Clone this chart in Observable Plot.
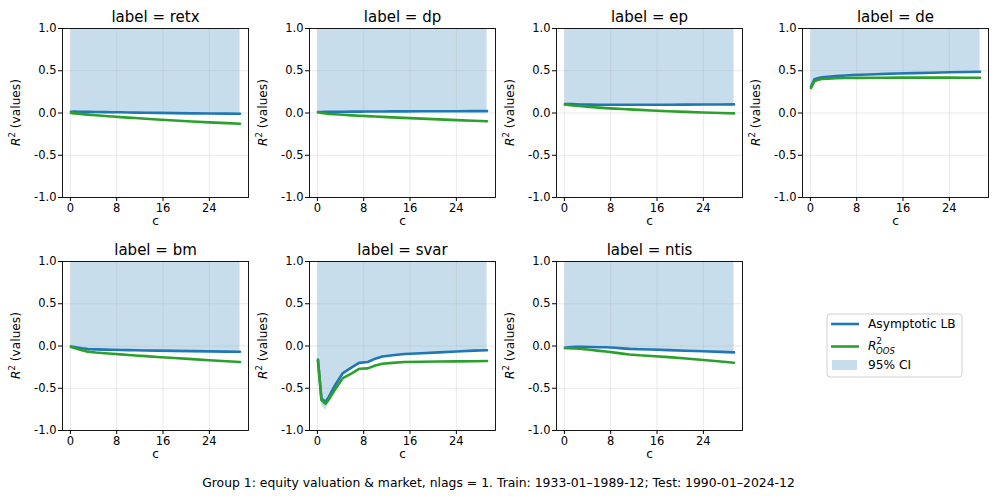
<!DOCTYPE html>
<html><head><meta charset="utf-8">
<script src="https://cdn.jsdelivr.net/npm/d3@7"></script>
<script src="https://cdn.jsdelivr.net/npm/@observablehq/plot@0.6"></script>
<style>
body{margin:0;background:#fff;}
#root{position:relative;width:997px;height:500px;font-family:"DejaVu Sans",sans-serif;overflow:hidden;background:#fff;}
.panel{position:absolute;}
#caption{position:absolute;left:0;width:997px;top:475px;text-align:center;font-size:12.4px;color:#000;}
</style></head><body><div id="root"></div>
<script>
// ---------- data ----------
const labels = ["retx", "dp", "ep", "de", "bm", "svar", "ntis"];
const cGrid = [0.1, 0.7, 1.4, 2, 3, 4.4, 6, 7.2, 8.7, 10, 11.2, 13, 15, 18, 21, 24, 27, 29.3];

const lbRetx = [0.015, 0.016, 0.015, 0.014, 0.013, 0.012, 0.010, 0.009, 0.008, 0.006, 0.005, 0.003, 0.001, -0.002, -0.004, -0.006, -0.007, -0.008];
const r2Retx = [0.000, -0.004, -0.009, -0.013, -0.019, -0.027, -0.035, -0.041, -0.049, -0.055, -0.060, -0.068, -0.077, -0.089, -0.100, -0.111, -0.120, -0.127];

const lbDp = [0.012, 0.012, 0.013, 0.013, 0.014, 0.015, 0.016, 0.016, 0.017, 0.018, 0.018, 0.019, 0.019, 0.020, 0.021, 0.021, 0.022, 0.022];
const r2Dp = [0.010, 0.000, -0.006, -0.010, -0.015, -0.021, -0.028, -0.032, -0.037, -0.042, -0.046, -0.052, -0.058, -0.067, -0.076, -0.084, -0.091, -0.097];

const lbEp = [0.105, 0.107, 0.105, 0.103, 0.100, 0.099, 0.098, 0.098, 0.097, 0.097, 0.097, 0.097, 0.097, 0.098, 0.099, 0.100, 0.101, 0.102];
const r2Ep = [0.100, 0.095, 0.089, 0.085, 0.079, 0.071, 0.064, 0.058, 0.052, 0.047, 0.043, 0.037, 0.030, 0.021, 0.013, 0.006, 0.000, -0.005];

const lbDe = [0.310, 0.400, 0.415, 0.422, 0.428, 0.436, 0.443, 0.448, 0.452, 0.456, 0.459, 0.463, 0.467, 0.472, 0.477, 0.482, 0.486, 0.489];
const r2De = [0.295, 0.375, 0.395, 0.402, 0.407, 0.411, 0.414, 0.415, 0.416, 0.417, 0.418, 0.418, 0.419, 0.419, 0.419, 0.419, 0.418, 0.418];

const lbBm = [-0.005, -0.012, -0.020, -0.027, -0.036, -0.040, -0.043, -0.045, -0.047, -0.049, -0.051, -0.053, -0.055, -0.058, -0.061, -0.064, -0.066, -0.068];
const r2Bm = [-0.013, -0.025, -0.038, -0.050, -0.067, -0.077, -0.085, -0.091, -0.099, -0.106, -0.112, -0.120, -0.130, -0.142, -0.155, -0.168, -0.180, -0.190];

const lbSvar = [-0.160, -0.620, -0.660, -0.600, -0.470, -0.320, -0.250, -0.200, -0.190, -0.150, -0.125, -0.110, -0.095, -0.085, -0.075, -0.065, -0.055, -0.050];
const r2Svar = [-0.170, -0.640, -0.685, -0.630, -0.520, -0.380, -0.320, -0.270, -0.265, -0.230, -0.210, -0.200, -0.190, -0.186, -0.184, -0.182, -0.180, -0.178];
const ciLowSvar = [-0.170, -0.700, -0.760, -0.680, -0.520, -0.350, -0.270, -0.220, -0.200, -0.160, -0.135, -0.120, -0.100, -0.090, -0.080, -0.070, -0.060, -0.055];

const lbNtis = [-0.020, -0.015, -0.012, -0.010, -0.010, -0.012, -0.014, -0.015, -0.020, -0.028, -0.034, -0.038, -0.042, -0.049, -0.056, -0.063, -0.070, -0.076];
const r2Ntis = [-0.025, -0.026, -0.028, -0.030, -0.035, -0.045, -0.058, -0.066, -0.078, -0.090, -0.100, -0.110, -0.118, -0.132, -0.148, -0.165, -0.183, -0.198];

const ciTop = 1.0; // upper CI bound lies above the visible range
const xTicks = [0, 8, 16, 24];
const yTicks = [-1, -0.5, 0, 0.5, 1];
const legendLabels = ["Asymptotic LB", "R2_OOS", "95% CI"];
const caption = "Group 1: equity valuation & market, nlags = 1. Train: 1933-01\u20131989-12; Test: 1990-01\u20132024-12";

const series = {
  retx: {lb: lbRetx, r2: r2Retx, lo: lbRetx},
  dp: {lb: lbDp, r2: r2Dp, lo: lbDp},
  ep: {lb: lbEp, r2: r2Ep, lo: lbEp},
  de: {lb: lbDe, r2: r2De, lo: lbDe},
  bm: {lb: lbBm, r2: r2Bm, lo: lbBm},
  svar: {lb: lbSvar, r2: r2Svar, lo: ciLowSvar},
  ntis: {lb: lbNtis, r2: r2Ntis, lo: lbNtis}
};

// ---------- layout ----------
const BLUE = "#1f77b4", GREEN = "#2ca02c";
const W = 247, H = 240, ML = 52, MR = 9, MT = 28, MB = 43;
const colLeft = [10, 257, 504, 750];
const rowTop = [0, 233];
const root = document.getElementById("root");

labels.forEach((lab, i) => {
  const s = series[lab];
  const rows = cGrid.map((c, j) => ({c, lb: s.lb[j], r2: s.r2[j], lo: s.lo[j], hi: ciTop}));
  const svg = Plot.plot({
    width: W, height: H,
    marginLeft: ML, marginRight: MR, marginTop: MT, marginBottom: MB,
    style: {fontFamily: "DejaVu Sans", fontSize: "11px", color: "#000", background: "#fff", overflow: "visible"},
    x: {domain: [-1.36, 30.76], label: null},
    y: {domain: [-1, 1], label: null},
    marks: [
      Plot.areaY(rows, {x: "c", y1: "lo", y2: "hi", fill: BLUE, fillOpacity: 0.25}),
      Plot.gridX(xTicks, {stroke: "#b0b0b0", strokeOpacity: 0.35, strokeWidth: 0.8}),
      Plot.gridY(yTicks, {stroke: "#b0b0b0", strokeOpacity: 0.35, strokeWidth: 0.8}),
      Plot.lineY(rows, {x: "c", y: "lb", stroke: BLUE, strokeWidth: 2.6}),
      Plot.lineY(rows, {x: "c", y: "r2", stroke: GREEN, strokeWidth: 2.6}),
      Plot.frame({stroke: "#000", strokeWidth: 0.9}),
      Plot.axisX(xTicks, {tickSize: 4, tickPadding: 2, fontSize: 11.5, label: null}),
      Plot.axisY(yTicks, {tickSize: 4, tickPadding: 2, fontSize: 11.5, label: null, tickFormat: d => d.toFixed(1)}),
      Plot.text([`label = ${lab}`], {frameAnchor: "top", dy: -7, lineAnchor: "bottom", fontSize: 15, fill: "#000"}),
      Plot.text(["c"], {frameAnchor: "bottom", dy: 24, lineAnchor: "middle", fontSize: 12.2, fill: "#000"})
    ]
  });
  // y-axis label with mathtext-like R^2
  const t = d3.select(svg).append("text")
    .attr("transform", `translate(${ML - 42},${MT + (H - MT - MB) / 2}) rotate(-90)`)
    .attr("text-anchor", "middle")
    .attr("font-size", 12.2)
    .attr("fill", "#000");
  t.append("tspan").attr("font-style", "italic").text("R");
  t.append("tspan").attr("font-size", 8.5).attr("dy", -5).text("2");
  t.append("tspan").attr("dy", 5).text(" (values)");

  const row = Math.floor(i / 4), col = i % 4;
  svg.classList.add("panel");
  svg.style.left = colLeft[col] + "px";
  svg.style.top = rowTop[row] + "px";
  svg.style.position = "absolute";
  root.appendChild(svg);
});

// ---------- legend ----------
const lg = d3.select(root).append("svg")
  .attr("width", 140).attr("height", 68)
  .style("position", "absolute").style("left", "826px").style("top", "313px")
  .style("font-family", "DejaVu Sans");
lg.append("rect").attr("x", 1).attr("y", 1).attr("width", 135).attr("height", 63)
  .attr("rx", 3).attr("fill", "#fff").attr("stroke", "#d0d0d0").attr("stroke-width", 1);
lg.append("line").attr("x1", 5).attr("x2", 33).attr("y1", 11).attr("y2", 11).attr("stroke", BLUE).attr("stroke-width", 2.6);
lg.append("text").attr("x", 42).attr("y", 11).attr("dy", "0.35em").attr("font-size", 12.2).text(legendLabels[0]);
lg.append("line").attr("x1", 5).attr("x2", 33).attr("y1", 33.5).attr("y2", 33.5).attr("stroke", GREEN).attr("stroke-width", 2.6);
const l2 = lg.append("text").attr("x", 42).attr("y", 37).attr("font-size", 12.2);
l2.append("tspan").attr("font-style", "italic").text("R");
l2.append("tspan").attr("font-size", 8.5).attr("dy", -6).text("2");
l2.append("tspan").attr("font-size", 8.5).attr("font-style", "italic").attr("x", 50).attr("dy", 10).text("OOS");
lg.append("rect").attr("x", 6).attr("y", 47).attr("width", 25).attr("height", 10).attr("fill", BLUE).attr("fill-opacity", 0.25);
lg.append("text").attr("x", 42).attr("y", 52).attr("dy", "0.35em").attr("font-size", 12.2).text(legendLabels[2]);

// ---------- caption ----------
const cap = document.createElement("div");
cap.id = "caption";
cap.textContent = caption;
root.appendChild(cap);
</script></body></html>
